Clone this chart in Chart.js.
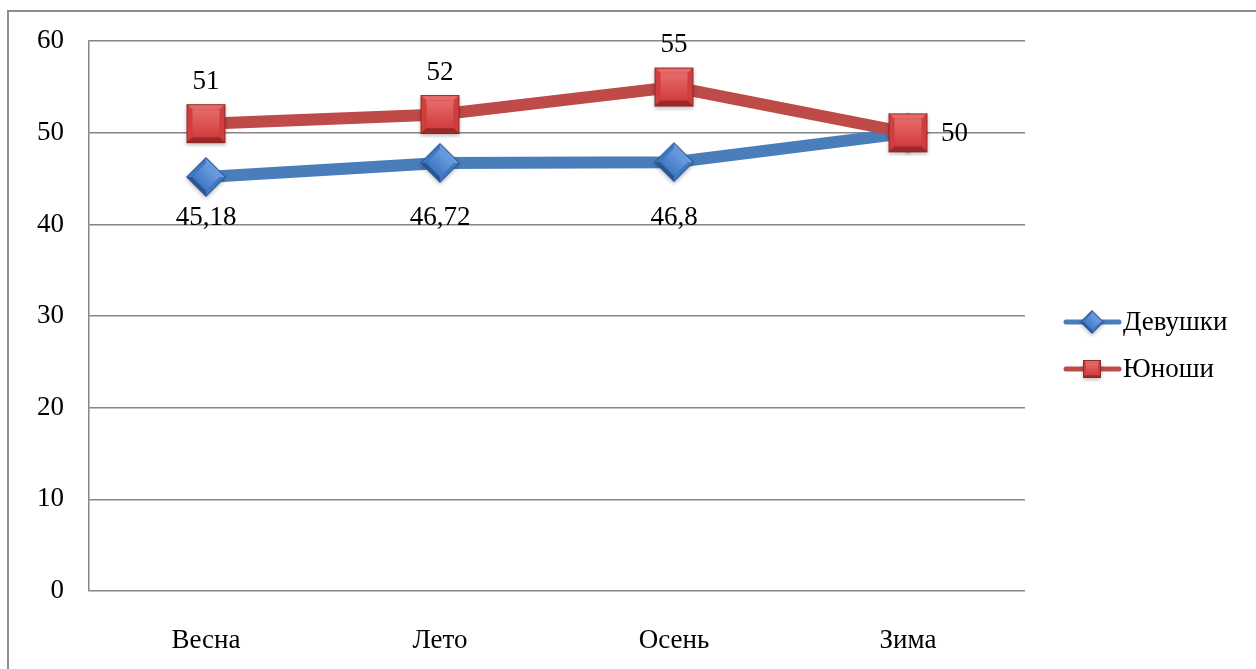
<!DOCTYPE html>
<html>
<head>
<meta charset="utf-8">
<script src="https://cdn.jsdelivr.net/npm/chart.js@4.4.0/dist/chart.umd.min.js"></script>
<style>
    html, body { margin: 0; padding: 0; background: #fff; overflow: hidden; }
    .frame {
        position: absolute; left: 7px; top: 10px; width: 1300px; height: 700px;
        border-left: 2px solid #8c8c8c; border-top: 2px solid #8c8c8c;
    }
    .wrap { position: absolute; left: 0; top: 0; width: 1256px; height: 669px; }
</style>
</head>
<body>
<div class="frame"></div>
<div class="wrap"><canvas id="myChart" width="1256" height="669"></canvas></div>
<script>
const seasons = ['Весна', 'Лето', 'Осень', 'Зима'];
const girls = [45.18, 46.72, 46.8, 50];
const boys = [51, 52, 55, 50];
const yTicks = [0, 10, 20, 30, 40, 50, 60];

const blue = '#4a7ebb';
const red = '#be4b48';
const serif = "'Liberation Serif', 'Times New Roman', serif";
const fontSize = 27;

// bevelled marker drawn once into a small canvas
function bevelMarker(size, face, light, dark, edge, diamond) {
    const c = document.createElement('canvas');
    c.width = size + 8;
    c.height = size + 8;
    const g = c.getContext('2d');
    g.translate(c.width / 2, c.height / 2);
    if (diamond) g.rotate(Math.PI / 4);
    const h = diamond ? size / 2 / Math.SQRT2 : size / 2;
    const b = h * 0.3;

    g.shadowColor = 'rgba(0,0,0,0.25)';
    g.shadowBlur = 4;
    g.shadowOffsetY = 2;
    g.fillStyle = edge;
    g.fillRect(-h, -h, 2 * h, 2 * h);
    g.shadowColor = 'transparent';

    const side = (pts, col) => {
        g.beginPath();
        g.moveTo(pts[0][0], pts[0][1]);
        pts.slice(1).forEach(p => g.lineTo(p[0], p[1]));
        g.closePath();
        g.fillStyle = col;
        g.fill();
    };
    const o = h - 1, i = h - b;
    side([[-o, -o], [o, -o], [i, -i], [-i, -i]], light);
    side([[-o, -o], [-i, -i], [-i, i], [-o, o]], face);
    side([[o, -o], [o, o], [i, i], [i, -i]], face);
    side([[-o, o], [-i, i], [i, i], [o, o]], dark);

    const grad = g.createLinearGradient(0, -i, 0, i);
    grad.addColorStop(0, light);
    grad.addColorStop(1, face);
    g.fillStyle = grad;
    g.fillRect(-i, -i, 2 * i, 2 * i);
    return c;
}

const diamondImg = bevelMarker(40, '#3f78c4', '#6b9de0', '#2a5590', '#2d5b96', true);
const squareImg = bevelMarker(39, '#d23d3d', '#e76a6a', '#9a2a2a', '#8e2727', false);
const diamondSmall = bevelMarker(24, '#3f78c4', '#6b9de0', '#2a5590', '#2d5b96', true);
const squareSmall = bevelMarker(18, '#d23d3d', '#e76a6a', '#9a2a2a', '#8e2727', false);

const fmt = v => String(v).replace('.', ',');

// value labels: girls on one row under the lowest point, boys above, last boy value to the right
const valueLabels = {
    id: 'valueLabels',
    afterDatasetsDraw(chart) {
        const ctx = chart.ctx;
        const yScale = chart.scales.y;
        const rowY = yScale.getPixelForValue(Math.min(...girls)) + 41;
        ctx.save();
        ctx.font = fontSize + 'px ' + serif;
        ctx.fillStyle = '#000';
        ctx.textAlign = 'center';
        ctx.textBaseline = 'middle';
        chart.getDatasetMeta(0).data.forEach((pt, i) => {
            if (i === girls.length - 1) return;
            ctx.fillText(fmt(girls[i]), pt.x, rowY);
        });
        chart.getDatasetMeta(1).data.forEach((pt, i) => {
            if (i === boys.length - 1) {
                ctx.textAlign = 'left';
                ctx.fillText(fmt(boys[i]), pt.x + 33, pt.y + 1);
                ctx.textAlign = 'center';
            } else {
                ctx.fillText(fmt(boys[i]), pt.x, pt.y - 42);
            }
        });
        ctx.restore();
    }
};

// legend on the right with line and marker
const sideLegend = {
    id: 'sideLegend',
    afterDraw(chart) {
        const ctx = chart.ctx;
        const items = [
            { text: 'Девушки', color: blue, img: diamondSmall, y: 322 },
            { text: 'Юноши', color: red, img: squareSmall, y: 369 }
        ];
        ctx.save();
        ctx.font = fontSize + 'px ' + serif;
        ctx.textBaseline = 'middle';
        items.forEach(it => {
            ctx.strokeStyle = it.color;
            ctx.lineWidth = 5;
            ctx.lineCap = 'round';
            ctx.beginPath();
            ctx.moveTo(1066, it.y);
            ctx.lineTo(1119, it.y);
            ctx.stroke();
            ctx.drawImage(it.img, 1092 - it.img.width / 2, it.y - it.img.height / 2);
            ctx.fillStyle = '#000';
            ctx.fillText(it.text, 1123, it.y + 1);
        });
        ctx.restore();
    }
};

const ctx = document.getElementById('myChart').getContext('2d');

const data = {
    labels: seasons,
    datasets: [{
        label: 'Девушки',
        data: girls,
        order: 1,
        borderColor: blue,
        borderWidth: 12,
        pointStyle: diamondImg,
        pointRadius: 20,
        pointHoverRadius: 20,
        tension: 0
    }, {
        label: 'Юноши',
        data: boys,
        order: 0,
        borderColor: red,
        borderWidth: 12,
        pointStyle: squareImg,
        pointRadius: 20,
        pointHoverRadius: 20,
        tension: 0
    }]
};

const config = {
    type: 'line',
    data: data,
    plugins: [valueLabels, sideLegend],
    options: {
        responsive: false,
        animation: false,
        layout: {
            padding: { left: 8, top: 40, right: 231, bottom: 0 }
        },
        plugins: {
            legend: { display: false },
            tooltip: { enabled: false }
        },
        scales: {
            x: {
                offset: true,
                grid: { display: false },
                border: { display: false },
                ticks: {
                    padding: 26,
                    color: '#000',
                    font: { family: serif, size: fontSize }
                },
                afterFit: s => { s.height = 78; }
            },
            y: {
                min: 0,
                max: 60,
                afterBuildTicks: s => { s.ticks = yTicks.map(v => ({ value: v })); },
                grid: { color: '#868686', lineWidth: 1.5, drawTicks: false },
                border: { display: true, color: '#868686', width: 1.5 },
                ticks: {
                    padding: 25,
                    color: '#000',
                    font: { family: serif, size: fontSize }
                },
                afterFit: s => { s.width = 81; }
            }
        }
    }
};

const myChart = new Chart(ctx, config);
</script>
</body>
</html>
